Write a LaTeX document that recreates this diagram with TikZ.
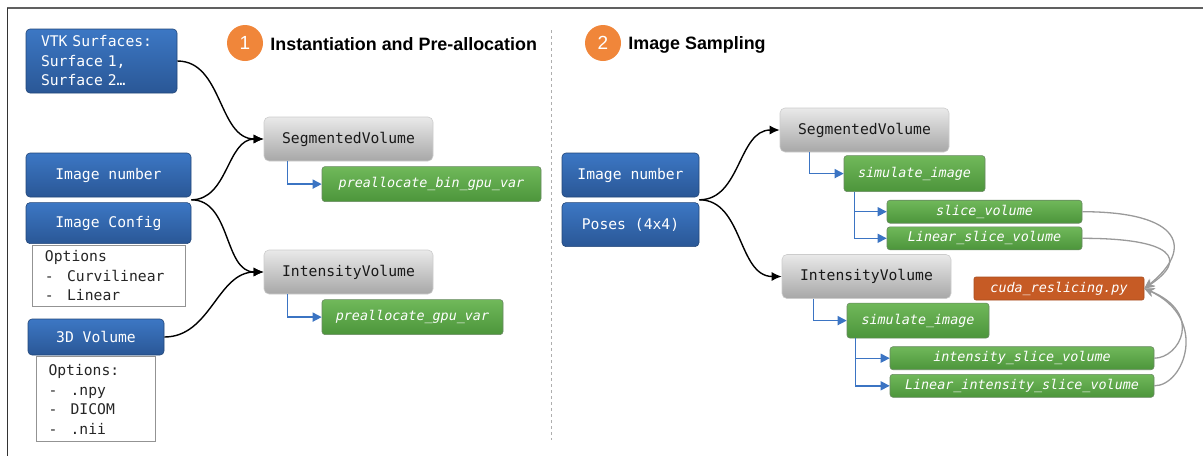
\documentclass[tikz,border=0pt]{standalone}
\usepackage{fontspec}
\setmainfont{Liberation Sans}
\setmonofont{DejaVu Sans Mono}
\usepackage{xcolor}
\definecolor{inbluetop}{HTML}{3C77C4}
\definecolor{inbluebot}{HTML}{2A5796}
\definecolor{clstop}{HTML}{E9E9E9}
\definecolor{clsbot}{HTML}{A7A7A7}
\definecolor{methtop}{HTML}{70B85A}
\definecolor{methbot}{HTML}{4C953B}
\definecolor{cudaorange}{HTML}{C65B25}
\definecolor{badge}{HTML}{F0863A}
\definecolor{elbow}{HTML}{3B74C3}
\definecolor{muted}{HTML}{9A9A9A}
\usepackage{tikz}
\usetikzlibrary{arrows.meta,positioning,calc}

\newcommand{\boxcode}{\fontsize{14.7}{19.5}\selectfont\ttfamily\spaceskip=0.602em\relax}
\newcommand{\methcode}{\fontsize{13.4}{16}\selectfont\ttfamily\itshape\spaceskip=0.602em\relax}
\newcommand{\optdash}{-\hspace{13.3pt}}

\begin{document}
\begin{tikzpicture}[
  x=1pt, y=1pt,
  node distance=5pt and 7pt,
  inbox/.style={
    rectangle, rounded corners=4pt, draw=inbluebot!80!black, top color=inbluetop,
    bottom color=inbluebot, text=white, font=\boxcode, inner sep=0pt, line width=0.6pt
  },
  optbox/.style={
    rectangle, draw=gray!85, fill=white, line width=1pt, align=left,
    font=\boxcode, text=black!85, inner ysep=0pt
  },
  clsbox/.style={
    rectangle, rounded corners=5pt, draw=gray!40, top color=clstop, bottom color=clsbot,
    font=\boxcode, text=black!90, minimum width=169, minimum height=44, inner sep=0pt,
    line width=0.6pt
  },
  methbox/.style={
    rectangle, rounded corners=3pt, draw=gray!55!methbot, top color=methtop,
    bottom color=methbot, text=white, font=\methcode, inner sep=0pt, line width=0.6pt
  },
  cudabox/.style={
    rectangle, rounded corners=2pt, draw=cudaorange!85!black, fill=cudaorange,
    text=white, font=\methcode, inner sep=0pt, line width=0.6pt
  },
  badgenum/.style={
    circle, fill=badge, text=white, minimum size=36, inner sep=0pt,
    font=\fontsize{19}{19}\selectfont
  },
  steptitle/.style={font=\fontsize{17.9}{20}\selectfont\bfseries, inner sep=0pt, yshift=-1.5pt},
  feed/.style={-{Latex[length=10pt,width=9pt]}, black, line width=1.4pt},
  callarr/.style={-{Triangle[length=9pt,width=9pt]}, elbow, line width=1.4pt},
  backarr/.style={-{Stealth[length=10pt,width=9pt]}, muted, line width=1.3pt}
]
\useasboundingbox (0,0) rectangle (1203,-456);

% frame
\draw[gray!75!black, line width=2pt] (7,-8) -- (1203,-8);
\draw[black!80, line width=1pt] (7,-8) -- (7,-456);

% stage 1
\node[badgenum] (b1) at (245,-43) {1};
\node[steptitle, right=of b1] (t1) {Instantiation and Pre-allocation};

\node[inbox, text width=121, align=left, inner xsep=15, minimum height=64] (vtk) at (101.5,-61) {VTK Surfaces:\\Surface 1,\\Surface 2…};
\node[inbox, minimum width=165, minimum height=44] (imgnum) at (108.5,-175) {Image number};
\node[inbox, minimum width=165, minimum height=41, below=of imgnum] (imgcfg) {Image Config};
\node[optbox, text width=127, inner xsep=13, minimum height=61, below=1pt of imgcfg] (cfgopt) {Options\\\optdash Curvilinear\\\optdash Linear};
\node[inbox, minimum width=136, minimum height=36] (vol) at (96,-337) {3D Volume};
\node[optbox, text width=95, inner xsep=12, minimum height=85, below=1pt of vol] (volopt) {Options:\\\optdash .npy\\\optdash DICOM\\\optdash .nii};

\node[clsbox] (segL) at (348.5,-139) {SegmentedVolume};
\node[methbox, minimum width=219, minimum height=35, anchor=north west] (binvar) at ($(segL.south west)+(58,-5)$) {preallocate\_bin\_gpu\_var};
\node[clsbox] (intL) at (348.5,-272) {IntensityVolume};
\node[methbox, minimum width=181, minimum height=35, anchor=north west] (gpuvar) at ($(intL.south west)+(58,-5)$) {preallocate\_gpu\_var};

\coordinate (jn1) at ($(imgnum.south east)!0.5!(imgcfg.north east)$);
\foreach \a/\b in {vtk.east/segL, jn1/segL, jn1/intL, vol.east/intL}
  \draw[feed] (\a) to[out=0,in=180] (\b.west);

% divider
\draw[muted!80, dashed, line width=1pt] (551,-30) -- (551,-440);

% stage 2
\node[badgenum] (b2) at (603,-43) {2};
\node[steptitle, right=of b2] (t2) {Image Sampling};

\node[inbox, minimum width=137, minimum height=44] (imgnum2) at (630.5,-175) {Image number};
\node[inbox, minimum width=137, minimum height=44, below=of imgnum2] (poses) {Poses (4x4)};

\node[clsbox] (segR) at (864.5,-130) {SegmentedVolume};
\node[methbox, minimum width=141, minimum height=36, anchor=north west] (simS) at ($(segR.south west)+(64,-3)$) {simulate\_image};
\node[methbox, minimum width=195, minimum height=23, anchor=north west] (slice) at ($(simS.south west)+(43,-8)$) {slice\_volume};
\node[methbox, minimum width=195, minimum height=23, below=3pt of slice] (lslice) {Linear\_slice\_volume};

\node[clsbox] (intR) at (866.5,-276.5) {IntensityVolume};
\node[cudabox, minimum width=170, minimum height=23] (cuda) at (1059,-288.5) {cuda\_reslicing.py};
\node[methbox, minimum width=142, minimum height=35, anchor=north west] (simI) at ($(intR.south west)+(65,-4)$) {simulate\_image};
\node[methbox, minimum width=264, minimum height=23, anchor=north west] (islice) at ($(simI.south west)+(43,-8)$) {intensity\_slice\_volume};
\node[methbox, minimum width=264, minimum height=23, below=4pt of islice] (lislice) {Linear\_intensity\_slice\_volume};

\coordinate (jn2) at ($(imgnum2.south east)!0.5!(poses.north east)$);
\foreach \b in {segR, intR}
  \draw[feed] (jn2) to[out=0,in=180] (\b.west);

% method calls
\foreach \a/\b/\dx in {segL/binvar/24, intL/gpuvar/24, segR/simS/30, simS/slice/11, simS/lslice/11, intR/simI/32, simI/islice/9, simI/lislice/9}
  \draw[callarr] ($(\a.south west)+(\dx,0)$) |- (\b.west);

% back to the cuda kernels
\draw[backarr] (slice.east) .. controls +(100,0) and +(50,40) .. (cuda.east);
\draw[backarr] (lslice.east) .. controls +(90,0) and +(45,30) .. (cuda.east);
\draw[backarr] (islice.east) .. controls +(25,0) and +(60,-25) .. (cuda.east);
\draw[backarr] (lislice.east) .. controls +(30,0) and +(65,-30) .. (cuda.east);

\end{tikzpicture}
\end{document}
